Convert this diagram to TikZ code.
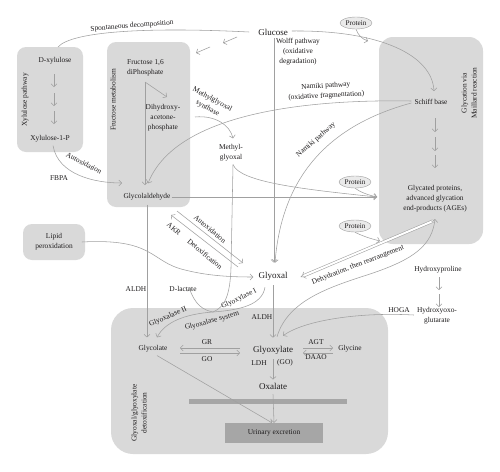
\documentclass[tikz,border=0pt]{standalone}
\usepackage{fontspec}
\setmainfont{Liberation Serif}
\usetikzlibrary{arrows.meta,calc,shapes.geometric}
\definecolor{boxg}{HTML}{D9D9D9}
\definecolor{darkg}{HTML}{A6A6A6}
\definecolor{lineg}{HTML}{A0A0A0}
\definecolor{txt}{HTML}{1E1C1D}
\tikzset{
  panel/.style={fill=boxg, rounded corners=9pt},
  lbl/.style={text=txt, font=\fontsize{7.4}{10}\selectfont, inner sep=1pt, align=center},
  big/.style={text=txt, font=\fontsize{9}{10}\selectfont, inner sep=1pt, align=center},
  conn/.style={draw=lineg, line width=0.55pt},
  arr/.style={conn, -{Straight Barb[length=2.8pt,width=6pt]}},
  prot/.style={draw=lineg, fill=boxg!55, ellipse, minimum width=32pt, minimum height=12pt, inner sep=0pt, text=txt, font=\fontsize{7.2}{8}\selectfont},
}
\begin{document}
\begin{tikzpicture}[x=1pt,y=-1pt]
\fill[white] (0,0) rectangle (500,471);
\useasboundingbox (0,0) rectangle (500,471);
% panels
\fill[panel] (17,47) rectangle (83,152);
\fill[panel] (107,42) rectangle (190,207);
\fill[panel, rounded corners=14pt] (379,37) rectangle (483,244);
\fill[panel] (23,224) rectangle (85,260);
\fill[panel, rounded corners=22pt] (111,308) rectangle (388,454);
\fill[darkg] (189,399) rectangle (347,404);
\node[lbl, fill=darkg, minimum width=98pt, minimum height=20pt] (urine) at (274,433) {Urinary excretion};
% panel titles
\node[lbl, rotate=90] (xpw) at (25,100) {Xylulose pathway};
\node[lbl, rotate=90] (fmet) at (113,100) {Fructose metabolism};
\node[lbl, rotate=90] (glyc) at (469,93) {Glycation via\\Maillard reaction};
\node[lbl, rotate=90] (detox) at (139,413) {Glyoxal/glyoxylate\\detoxification};
% text nodes
\node[lbl, rotate=4.5] (spont) at (132,26) {Spontaneous decomposition};
\node[big] (glucose) at (273,32) {Glucose};
\node[prot] (p1) at (356,23) {Protein};
\node[prot] (p2) at (355,182) {Protein};
\node[prot] (p3) at (355,226) {Protein};
\node[lbl] (dxyl) at (55,61) {D-xylulose};
\node[lbl] (x1p) at (50,139) {Xylulose-1-P};
\node[lbl, align=left, anchor=west] (f16) at (126,68) {Fructose 1,6\\diPhosphate};
\node[lbl] (dhap) at (163,118) {Dihydroxy-\\acetone-\\phosphate};
\node[lbl, rotate=-28] (mgs) at (210,104) {Methylglyoxal\\synthase};
\node[lbl] (mgo) at (231,153) {Methyl-\\glyoxal};
\node[lbl] (wolff) at (298,52) {Wolff pathway\\(oxidative\\degradation)};
\node[lbl, rotate=3] (nam1) at (326,91) {Namiki pathway\\(oxidative fragmentation)};
\node[lbl, rotate=41] (nam2) at (316,140) {Namiki pathway};
\node[lbl] (schiff) at (431,102) {Schiff base};
\node[lbl] (ages) at (435,199) {Glycated proteins,\\advanced glycation\\end-products (AGEs)};
\node[lbl] (fbpa) at (59,178) {FBPA};
\node[lbl, rotate=-28] (auto1) at (84,163) {Autoxidation};
\node[lbl] (glal) at (147,197) {Glycolaldehyde};
\node[lbl] (lipid) at (54,242) {Lipid\\peroxidation};
\node[lbl, rotate=-40] (auto2) at (210,229) {Autoxidation};
\node[lbl, rotate=-40] (akr) at (174,229) {AKR};
\node[lbl, rotate=-40] (detx) at (205,254) {Detoxification};
\node[big] (glyoxal) at (273,276) {Glyoxal};
\node[lbl, rotate=21] (dehy) at (358,265) {Dehydration, then rearrangement};
\node[lbl] (aldh1) at (136,289) {ALDH};
\node[lbl] (dlac) at (183,289) {D-lactate};
\node[lbl] (aldh2) at (262,317) {ALDH};
\node[lbl, rotate=26] (gly1) at (239,299) {Glyoxylase I};
\node[lbl, rotate=24] (gly2) at (168,317) {Glyoxalase II};
\node[lbl, rotate=15] (glysys) at (212,321) {Glyoxalase system};
\node[lbl] (hyp) at (438,270) {Hydroxyproline};
\node[lbl] (hog) at (437,316) {Hydroxyoxo-\\glutarate};
\node[lbl] (hoga) at (399,310) {HOGA};
\node[lbl] (glycolate) at (153,349) {Glycolate};
\node[lbl] (gr) at (207,342) {GR};
\node[lbl] (go) at (207,359) {GO};
\node[big] (glyoxylate) at (273,350) {Glyoxylate};
\node[lbl] (agt) at (316,342) {AGT};
\node[lbl] (daao) at (316,357) {DAAO};
\node[lbl] (glycine) at (350,349) {Glycine};
\node[lbl] (ldh) at (259,363) {LDH};
\node[lbl] (go2) at (285,363) {(GO)};
\node[big] (oxalate) at (273,386) {Oxalate};
% named free ends
\coordinate (xbtop) at (58,47);
\coordinate (agesin) at (377,197);
\coordinate (agestop) at (435,219);
\coordinate (join) at (213,312);
\coordinate (dblstart) at (433,221);
% connectors
\draw[conn] ($(glucose.west)+(-8,0)$) .. controls (150,27) and (72,31) .. (xbtop);
\draw[arr] (237,37) -- (223,43);
\draw[arr] (210,47) -- (196,53);
\draw[arr] ($(glucose.east)+(3,-1)$) .. controls (380,30) and (432,55) .. ($(schiff.north)+(3,-7)$);
\draw[arr] (p1.south) .. controls (358,35) and (362,39) .. (368,41);
\draw[arr] ($(glucose.south)+(1,2)$) -- ($(glyoxal.north)+(1,-8)$);
\draw[arr] ($(schiff.west)+(-2,-1)$) .. controls (300,99) and (175,115) .. ($(glal.north)+(1,-9)$);
\draw[arr] ($(schiff.west)+(-2,1)$) .. controls (330,125) and (282,175) .. ($(glyoxal.north)+(2,-8)$);
\foreach \a/\b in {118/132,137/151,155/168} \draw[arr] (435,\a) -- (435,\b);
\foreach \a/\b in {74/87,93/106,111/124} \draw[arr] (54,\a) -- (54,\b);
\draw[arr] ($(x1p.south)+(3,2)$) .. controls (58,175) and (95,183) .. (122,183);
\draw[arr] (145,82) -- (145,185);
\draw[arr] (145,82) -- (167,97);
\draw[arr] (195,117) .. controls (215,115) and (230,125) .. ($(mgo.north)+(2,-5)$);
\draw[conn] ($(mgo.south)+(2,2)$) .. controls (240,182) and (300,189) .. (agesin);
\draw[arr] (glal.east) -- (agesin);
\draw[arr] (p2.south) .. controls (360,192) and (368,195) .. (agesin);
\draw[arr] ($(mgo.south)+(2,2)$) -- (231,268) .. controls (230,295) and (225,307) .. (join) .. controls (203,310) and (195,305) .. ($(dlac.north)+(6,2)$);
\draw[arr] ($(glal.south)+(0,3)$) -- ($(glycolate.north)+(-6,-7)$);
\draw[arr] (177,211) -- (243,263);
\draw[arr] (238,267) -- (171,215);
\draw[arr] ($(lipid.east)+(8,0)$) .. controls (155,238) and (150,262) .. (185,270) .. controls (205,275) and (225,277) .. ($(glyoxal.west)+(-4,1)$);
\draw[arr] ($(glyoxal.south)+(0,4)$) -- ($(glyoxylate.north)+(0,-7)$);
\draw[arr] ($(glyoxal.south)+(-8,6)$) .. controls (262,305) and (240,310) .. (join) .. controls (185,314) and (165,322) .. ($(glycolate.north)+(4,-7)$);
\draw[conn, double=white, double distance=2pt, -{Implies}] (dblstart) -- ($(glyoxal.east)+(12,1)$);
\draw[arr] ($(glyoxylate.north)+(4,-8)$) .. controls (288,300) and (330,287) .. (370,274) .. controls (415,259) and (432,245) .. (agestop);
\draw[arr] (p3.south) .. controls (362,236) and (372,239) .. (380,241);
\draw[arr] (439,277) -- (439,290);
\draw[arr] (439,294) -- (439,307);
\draw[arr] ($(hog.west)+(-2,-1)$) .. controls (360,312) and (305,320) .. ($(glyoxylate.north)+(10,-9)$);
\draw[arr] (240,348) -- (180,348);
\draw[arr] (180,353) -- (240,353);
\draw[arr] (303,348) -- (333,348);
\draw[arr] (333,353) -- (303,353);
\draw[arr] ($(glyoxylate.south)+(0,4)$) -- ($(oxalate.north)+(0,-2)$);
\draw[arr] ($(oxalate.south)+(0,4)$) -- (urine.north);
\draw[arr] ($(glycolate.south)+(4,2)$) -- ($(urine.north)+(-2,0)$);
\end{tikzpicture}
\end{document}
